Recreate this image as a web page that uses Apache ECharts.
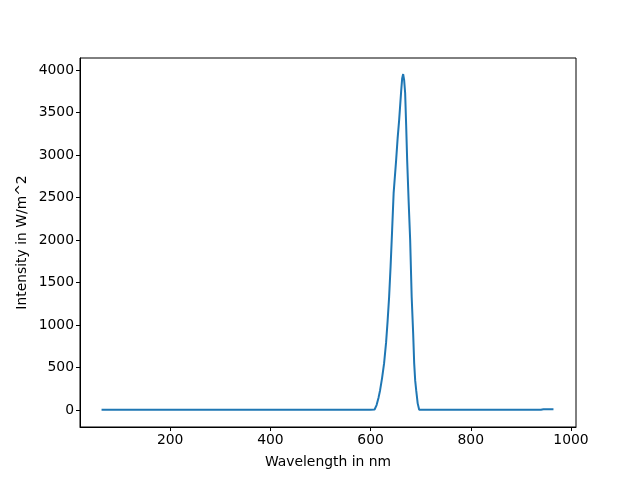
<!DOCTYPE html>
<html>
<head>
<meta charset="utf-8">
<script src="https://cdn.jsdelivr.net/npm/echarts@6/dist/echarts.min.js"></script>
<style>html,body{margin:0;padding:0;background:#fff}#c{width:640px;height:480px}</style>
</head>
<body>
<div id="c"></div>
<script>
const wavelengths = [63, 100, 150, 200, 250, 300, 350, 400, 450, 500, 550, 600, 608,
  612, 616, 619, 623, 627, 631, 634, 637, 640, 643, 646, 651, 654, 657, 661, 663, 665,
  667, 669, 671, 673, 676, 679, 682, 685, 687, 689, 691, 694, 697, 700,
  750, 800, 850, 900, 940, 945, 965];
const intensities = [5, 5, 5, 5, 5, 5, 5, 5, 5, 5, 5, 5, 8,
  60, 150, 235, 380, 553, 800, 1050, 1333, 1700, 2118, 2553, 2941, 3200, 3412, 3750, 3900, 3953,
  3880, 3729, 3350, 2941, 2450, 2000, 1333, 900, 553, 350, 235, 80, 5, 8,
  6, 6, 5, 5, 5, 11, 11];
const xTicks = [200, 400, 600, 800, 1000];
const yTicks = [0, 500, 1000, 1500, 2000, 2500, 3000, 3500, 4000];

const font = 'DejaVu Sans';
const chart = echarts.init(document.getElementById('c'), null, {renderer: 'canvas'});
chart.setOption({
  animation: false,
  backgroundColor: '#fff',
  grid: {left: 80, right: 64, top: 58, bottom: 53, show: true, borderColor: '#000', borderWidth: 1, containLabel: false},
  xAxis: {
    type: 'value', min: 20, max: 1010,
    name: 'Wavelength in nm', nameLocation: 'middle', nameGap: 28, nameMoveOverlap: false,
    nameTextStyle: {fontFamily: font, fontSize: 13.9, color: '#000'},
    axisLine: {show: true, onZero: false, lineStyle: {color: '#000', width: 1}},
    axisTick: {show: true, inside: false, length: 4, lineStyle: {color: '#000'}, customValues: xTicks},
    axisLabel: {fontFamily: font, fontSize: 13.9, color: '#000', margin: 6, customValues: xTicks, formatter: v => String(v)},
    splitLine: {show: false}
  },
  yAxis: {
    type: 'value', min: -198, max: 4142,
    name: 'Intensity in W/m^2', nameLocation: 'middle', nameGap: 51, nameRotate: 90, nameMoveOverlap: false,
    nameTextStyle: {fontFamily: font, fontSize: 13.9, color: '#000'},
    axisLine: {show: true, onZero: false, lineStyle: {color: '#000', width: 1}},
    axisTick: {show: true, inside: false, length: 4, lineStyle: {color: '#000'}, customValues: yTicks},
    axisLabel: {fontFamily: font, fontSize: 13.9, color: '#000', margin: 6, customValues: yTicks, formatter: v => String(v)},
    splitLine: {show: false}
  },
  series: [{
    type: 'line',
    data: wavelengths.map((w, i) => [w, intensities[i]]),
    showSymbol: false,
    smooth: false,
    lineStyle: {color: '#1f77b4', width: 2},
    itemStyle: {color: '#1f77b4'}
  }]
});
</script>
</body>
</html>
